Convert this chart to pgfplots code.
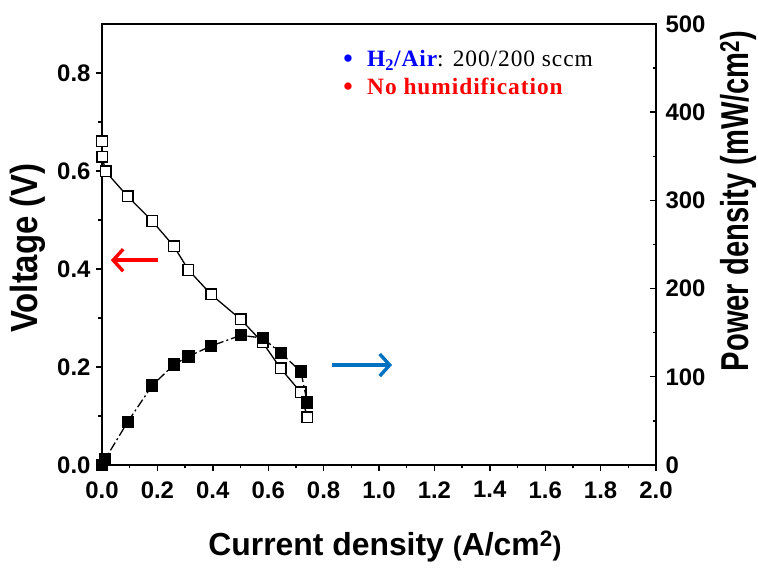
\documentclass[border=0pt]{standalone}
\usepackage{fontspec}
\setmainfont{Liberation Sans}
\newfontfamily\seriffont{Liberation Serif}
\usepackage{graphicx}
\usepackage{pgfplots}
\usepackage{pgfplotstable}
\pgfplotsset{compat=1.18}
\usetikzlibrary{arrows.meta}
\definecolor{arrowblue}{HTML}{0070C0}
\definecolor{txtblue}{HTML}{0000FF}

\pgfplotstableread{
x V
0.000 0.661
0.001 0.629
0.013 0.599
0.093 0.548
0.181 0.498
0.260 0.446
0.312 0.398
0.394 0.348
0.501 0.297
0.580 0.250
0.645 0.197
0.718 0.148
0.741 0.097
}\voltage

\pgfplotstableread{
x P
0.000 0
0.012 7
0.093 49
0.181 90
0.260 114
0.312 123
0.394 135
0.501 147
0.580 144
0.645 127
0.718 106
0.741 71
}\power

\begin{document}
\begin{tikzpicture}
\path[use as bounding box] (0,0) rectangle (758bp,568bp);
\begin{axis}[
  at={(102bp,103bp)}, anchor=south west,
  scale only axis, width=554bp, height=441bp,
  xmin=0, xmax=2, ymin=0, ymax=0.9,
  clip=false,
  axis line style={line width=1.6bp},
  xtick={0,0.2,...,2.0}, ytick={0,0.2,...,0.8},
  minor x tick num=1, minor y tick num=1,
  tick align=outside,
  xtick pos=lower, ytick pos=left,
  major tick length=6bp, minor tick length=3.5bp,
  every tick/.style={line width=1.4bp, black},
  ticklabel style={font=\fontsize{24}{24}\selectfont\bfseries},
  /pgf/number format/assume math mode=true,
  xticklabel style={yshift=-7bp, /pgf/number format/.cd, fixed, fixed zerofill, precision=1},
  yticklabel style={xshift=-2bp, /pgf/number format/.cd, fixed, fixed zerofill, precision=1},
]
\addplot[black, line width=1.3bp, mark=square*, mark size=5.3bp,
  mark options={fill=white, solid, line width=1.4bp}] table[x=x, y=V] {\voltage};
\draw[red, line width=3.4bp, -{Straight Barb[length=10bp,width=22bp]}]
  (axis cs:0.202,0.418) -- (axis cs:0.032,0.418);
\draw[arrowblue, line width=3.4bp, -{Straight Barb[length=10bp,width=22bp]}]
  (axis cs:0.830,0.204) -- (axis cs:1.047,0.204);
\end{axis}
\begin{axis}[
  at={(102bp,103bp)}, anchor=south west,
  scale only axis, width=554bp, height=441bp,
  xmin=0, xmax=2, ymin=0, ymax=500,
  clip=false,
  axis x line=none, axis y line*=right,
  axis line style={line width=1.6bp},
  ytick={0,100,...,500}, minor y tick num=1,
  tick align=inside,
  major tick length=6bp, minor tick length=3.5bp,
  every tick/.style={line width=1.4bp, black},
  ticklabel style={font=\fontsize{24}{24}\selectfont\bfseries},
  yticklabel style={xshift=6bp},
  /pgf/number format/assume math mode=true,
]
\addplot[black, line width=1.3bp, dash pattern=on 9bp off 3bp on 2bp off 3bp,
  mark=square*, mark size=5.5bp, mark options={fill=black, solid}] table[x=x, y=P] {\power};
\end{axis}
% axis titles
\node[rotate=90, font=\fontsize{38}{38}\selectfont\bfseries] at (28bp,320bp)
  {\scalebox{0.87}[1]{Voltage (V)}};
\node[rotate=90, font=\fontsize{39}{39}\selectfont\bfseries] at (738bp,367bp)
  {\scalebox{0.75}[1]{Power density (mW/cm\textsuperscript{2})}};
\node[anchor=base, font=\fontsize{32}{32}\selectfont\bfseries] at (385bp,13bp)
  {Current density {\fontsize{27}{27}\selectfont(}A/cm\textsuperscript{2}{\fontsize{27}{27}\selectfont)}};
% annotation text
\node[anchor=base, text=txtblue, font=\seriffont\bfseries\fontsize{27}{27}\selectfont] at (348bp,500bp) {•};
\node[anchor=base west, inner sep=0pt, font=\seriffont\fontsize{23.5}{23.5}\selectfont\addfontfeature{LetterSpace=4}] at (367bp,501bp)
  {{\bfseries\color{txtblue}H\textsubscript{2}/Air}: 200/200 sccm};
\node[anchor=base, text=red, font=\seriffont\bfseries\fontsize{27}{27}\selectfont] at (348bp,472bp) {•};
\node[anchor=base west, inner sep=0pt, text=red, font=\seriffont\bfseries\fontsize{23.5}{23.5}\selectfont\addfontfeature{LetterSpace=4}] at (367bp,473bp)
  {No humidification};
\end{tikzpicture}
\end{document}
